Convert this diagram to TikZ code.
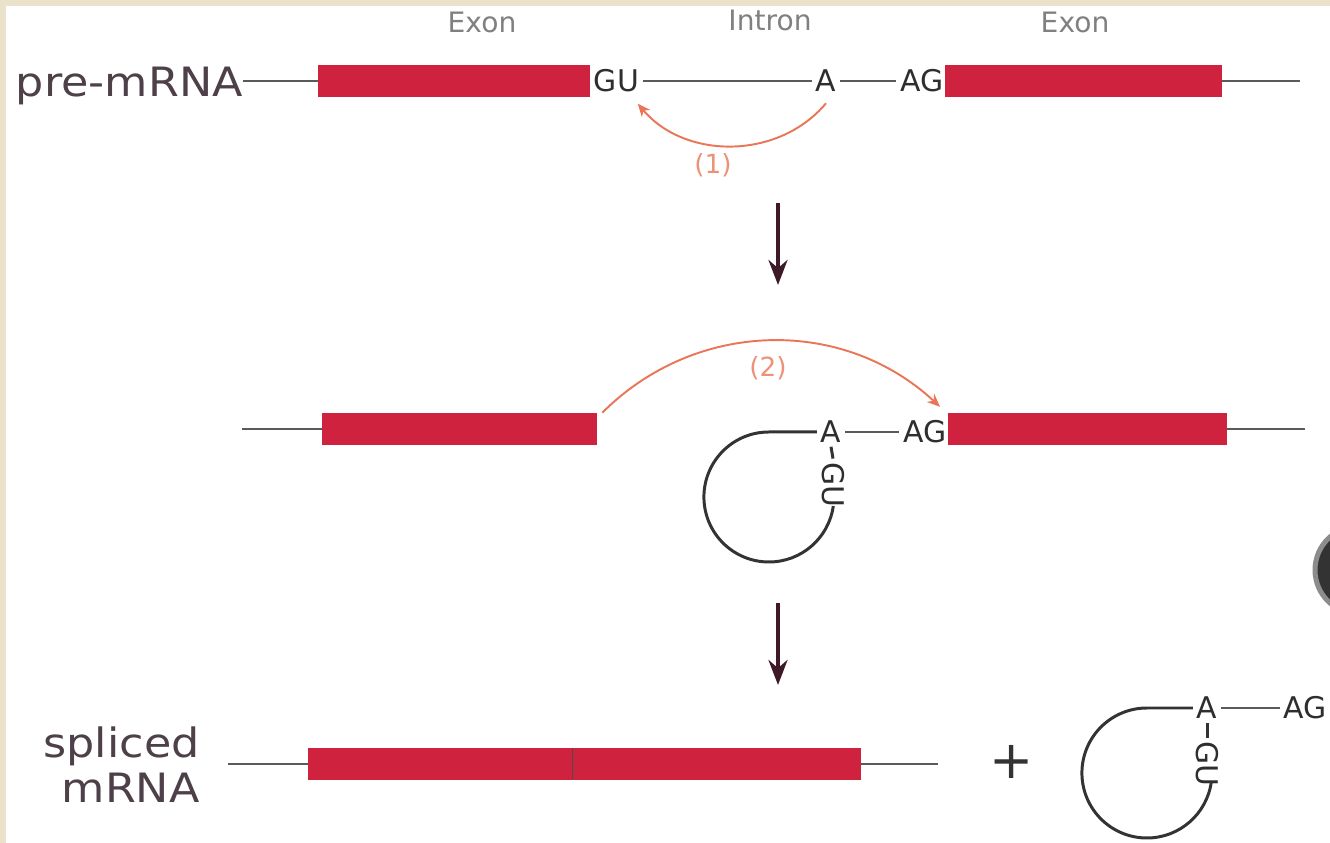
\documentclass[tikz,border=0pt]{standalone}
\usepackage{fontspec}
\setmainfont{DejaVu Sans}
\newfontfamily\widesans{DejaVu Sans}[FakeStretch=1.1]
\usetikzlibrary{positioning,arrows.meta}

\definecolor{exred}{RGB}{207,34,62}
\definecolor{strandgray}{RGB}{90,90,90}
\definecolor{rxncol}{RGB}{234,118,88}
\definecolor{stepcol}{RGB}{62,26,40}
\definecolor{framecol}{RGB}{234,226,202}
\definecolor{labelcol}{RGB}{78,64,72}

\begin{document}
\begin{tikzpicture}[x=0.2mm, y=0.2mm,
  exon/.style={rectangle, fill=exred, inner sep=0pt, minimum height=6.4mm},
  site/.style={inner sep=2pt, font=\fontsize{17}{20}\selectfont, text=black!82},
  hdr/.style={inner sep=0pt, font=\fontsize{16}{19}\selectfont, text=black!50},
  big/.style={inner sep=0pt, font=\widesans\fontsize{23}{25.5}\selectfont, text=labelcol, align=right},
  num/.style={inner sep=0pt, font=\fontsize{15}{18}\selectfont, text=rxncol!80},
  rna/.style={draw=strandgray, line width=1.1pt},
  lariat/.style={draw=black!80, line width=1.7pt},
  junction/.style={draw=black!70, line width=0.9pt},
  rxn/.style={draw=rxncol, line width=1.1pt, -{Stealth[length=2.6mm,width=2.2mm]}},
  stepdown/.style={draw=stepcol, line width=2.3pt, -{Stealth[length=5mm,width=3.8mm]}}
]
\useasboundingbox (0,0) rectangle (1330,843);
\fill[framecol] (0,0) rectangle (1330,843);
\fill[white] (6,0) rectangle (1330,837);
\begin{scope}
  \clip (0,0) rectangle (1330,843);
  \fill[black!80, draw=black!45, line width=1mm] (1359,273) circle[radius=44];
\end{scope}

% pre-mRNA
\node[big, anchor=east] (pre) at (243,757) {pre-mRNA};
\node[exon, minimum width=54.4mm] (ex1) at (454,762) {};
\node[site, anchor=west] (gu1) at (590,762) {GU};
\node[site] (a1) at (826,762) {A};
\node[site, anchor=east] (ag1) at (947,762) {AG};
\node[exon, minimum width=55.4mm] (ex2) at (1083.5,762) {};
\coordinate (end1) at (1300,762);
\node[hdr] (h1) at (482,821) {Exon};
\node[hdr] (h2) at (770,823) {Intron};
\node[hdr] (h3) at (1075,821) {Exon};

\draw[rna] (ex1.west -| pre.east) -- (ex1.west);
\draw[rna] (gu1) -- (a1);
\draw[rna] (a1) -- (ag1);
\draw[rna] (ex2.east) -- (end1);
\draw[rxn] ([yshift=-1.5mm]a1.south) to[bend left=50] ([xshift=-1mm,yshift=-1.5mm]gu1.south east);
\node[num] (n1) at (713,678) {(1)};

\coordinate (d1s) at (778,640);
\coordinate (d1e) at (778,558);
\draw[stepdown] (d1s) -- (d1e);

% lariat forms
\coordinate (st2) at (242,414);
\node[exon, minimum width=55mm] (ex3) at (459.5,414) {};
\node[site] (a2) at (831,411) {A};
\node[site, anchor=east] (ag2) at (950,411) {AG};
\node[exon, minimum width=55.8mm] (ex4) at (1087.5,414) {};
\coordinate (end2) at (1305,414);
\node[site, rotate=-90] (gu2) at (833,358) {GU};

\draw[rna] (st2) -- (ex3.west);
\draw[rna] (a2) -- (ag2);
\draw[rna] (ex4.east) -- (end2);
\draw[lariat] (a2.west) -- ++(-48,0) arc[start angle=90, end angle=352, radius=65];
\draw[lariat] (a2.south) -- (gu2.west);
\draw[rxn] ([xshift=1mm]ex3.north east) to[bend left=44] ([xshift=-2mm,yshift=2mm]ag2.north east);
\node[num] (n2) at (768,475) {(2)};

\coordinate (d2s) at (778,240);
\coordinate (d2e) at (778,158);
\draw[stepdown] (d2s) -- (d2e);

% spliced mRNA + lariat
\node[big, anchor=east] (spl) at (200,78) {spliced\\mRNA};
\coordinate (st3) at (228,79);
\node[exon, minimum width=52.8mm] (ex5) at (440,79) {};
\node[exon, minimum width=57.6mm, right=0pt of ex5] (ex6) {};
\coordinate (end3) at (938,79);
\node[inner sep=0pt, font=\fontsize{30}{34}\selectfont, text=black!80] (plus) at (1012,81) {+};
\node[site] (a3) at (1207,135) {A};
\node[site] (ag3) at (1305,135) {AG};
\node[site, rotate=-90] (gu3) at (1207,79) {GU};

\draw[rna] (st3) -- (ex5.west);
\draw[junction] (ex5.north east) -- (ex5.south east);
\draw[rna] (ex6.east) -- (end3);
\draw[lariat] (a3.west) -- ++(-46,0) arc[start angle=90, end angle=352, radius=65];
\draw[lariat] (a3.south) -- (gu3.west);
\draw[rna] (a3) -- (ag3);
\end{tikzpicture}
\end{document}
